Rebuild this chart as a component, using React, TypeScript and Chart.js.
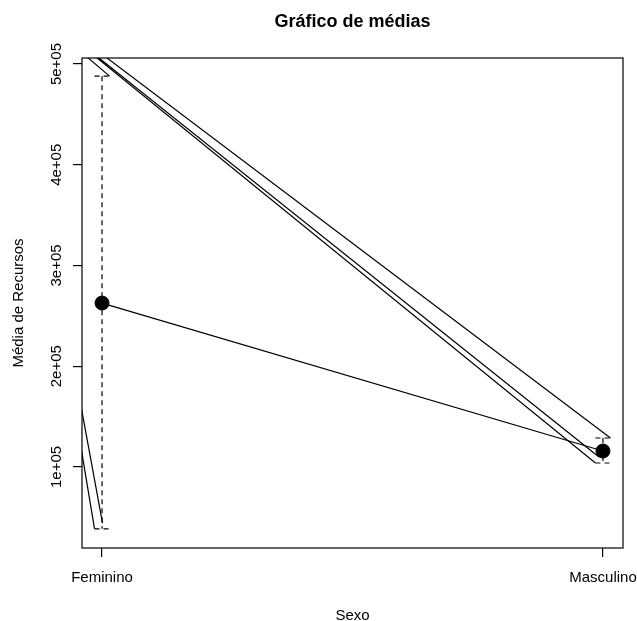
import React, { useEffect, useRef } from "react";
import { Chart, registerables } from "chart.js";

Chart.register(...registerables);

// ---- data ----
const categories = ["Feminino", "Masculino"];
const categoryX = [1, 2];
const means = [262700, 115800];
const ciUpper = [488000, 128700];
const ciLower = [38500, 103900];
const yTicks = [100000, 200000, 300000, 400000, 500000];
const yTickLabels = ["1e+05", "2e+05", "3e+05", "4e+05", "5e+05"];
const xLimits = [0.96, 2.04];
const yLimits = [19500, 506000];
// stray solid segments visible in the reference (start -> end, data units)
const strayStartX = [0.9303, 0.9602, 0.9602, 0.9602, 0.95, 0.95];
const strayStartY = [523900, 524700, 519400, 518100, 181900, 143300];
const strayEndX = [1.015, 2.015, 1.992, 1.985, 1.001, 0.985];
const strayEndY = [488000, 128700, 109800, 103900, 44300, 38500];

const titleText = "Gráfico de médias";
const xTitle = "Sexo";
const yTitle = "Média de Recursos";

const FAMILY = '"Liberation Sans", Arial, Helvetica, sans-serif';

export default function App() {
  const ref = useRef<HTMLCanvasElement | null>(null);

  useEffect(() => {
    if (!ref.current) return;
    const cap = 0.015;

    const meanData = categoryX.map((x, i) => ({ x, y: means[i] }));

    const errData: any[] = [];
    categoryX.forEach((x, i) => {
      errData.push({ x: x - cap, y: ciUpper[i] }, { x: x + cap, y: ciUpper[i] }, { x: x + cap, y: null });
      errData.push({ x, y: ciUpper[i] }, { x, y: ciLower[i] }, { x, y: null });
      errData.push({ x: x - cap, y: ciLower[i] }, { x: x + cap, y: ciLower[i] }, { x: x + cap, y: null });
    });

    const strayData: any[] = [];
    strayStartX.forEach((sx, i) => {
      strayData.push({ x: sx, y: strayStartY[i] }, { x: strayEndX[i], y: strayEndY[i] }, { x: strayEndX[i], y: null });
    });

    const framePlugin = {
      id: "rframe",
      afterDraw(chart: any) {
        const { ctx, chartArea: a } = chart;
        ctx.save();
        ctx.strokeStyle = "#000";
        ctx.lineWidth = 1.2;
        ctx.strokeRect(a.left, a.top, a.right - a.left, a.bottom - a.top);
        ctx.fillStyle = "#000";
        ctx.font = `bold 18px ${FAMILY}`;
        ctx.textAlign = "center";
        ctx.textBaseline = "middle";
        ctx.fillText(titleText, (a.left + a.right) / 2, 22);
        ctx.restore();
      },
    };

    const font = { family: FAMILY, size: 15 };
    const grid = {
      display: true,
      drawOnChartArea: false,
      drawTicks: true,
      tickLength: 9,
      color: "#000",
      lineWidth: 1.2,
    };

    const chart = new Chart(ref.current, {
      type: "line",
      data: {
        datasets: [
          {
            data: meanData,
            borderColor: "#000",
            borderWidth: 1.2,
            pointRadius: 7,
            pointBackgroundColor: "#000",
            pointBorderColor: "#000",
            pointBorderWidth: 1,
            clip: 0,
          },
          {
            data: errData,
            borderColor: "#000",
            borderWidth: 1.2,
            borderDash: [5, 4],
            pointRadius: 0,
            spanGaps: false,
            clip: 0,
          },
          {
            data: strayData,
            borderColor: "#000",
            borderWidth: 1.2,
            pointRadius: 0,
            spanGaps: false,
            clip: 0,
          },
        ] as any,
      },
      options: {
        animation: false,
        responsive: false,
        maintainAspectRatio: false,
        layout: { padding: { top: 58, right: 14, bottom: 0, left: 0 } },
        plugins: {
          legend: { display: false },
          tooltip: { enabled: false },
          title: { display: false },
        },
        scales: {
          x: {
            type: "linear",
            min: xLimits[0],
            max: xLimits[1],
            afterBuildTicks: (s: any) => {
              s.ticks = categoryX.map((v) => ({ value: v }));
            },
            afterFit: (s: any) => {
              s.height = 73;
              s.paddingLeft = 0;
              s.paddingRight = 0;
              s.paddingTop = 0;
              s.paddingBottom = 0;
            },
            grid,
            border: { display: false },
            ticks: {
              callback: (_v: any, i: number) => categories[i],
              color: "#000",
              font,
              padding: 11.5,
              autoSkip: false,
              minRotation: 0,
              maxRotation: 0,
            },
            title: {
              display: true,
              text: xTitle,
              color: "#000",
              font,
              padding: { top: 0, bottom: -4 },
            },
          },
          y: {
            type: "linear",
            min: yLimits[0],
            max: yLimits[1],
            afterBuildTicks: (s: any) => {
              s.ticks = yTicks.map((v) => ({ value: v }));
            },
            afterFit: (s: any) => {
              s.width = 82;
              s.paddingLeft = 0;
              s.paddingRight = 0;
              s.paddingTop = 0;
              s.paddingBottom = 0;
            },
            grid,
            border: { display: false },
            ticks: {
              callback: (_v: any, i: number) => yTickLabels[i],
              color: "#000",
              font,
              padding: -5,
              minRotation: 90,
              maxRotation: 90,
              crossAlign: "center",
              autoSkip: false,
            },
            title: {
              display: true,
              text: yTitle,
              color: "#000",
              font,
              padding: { top: 9.5, bottom: 0 },
            },
          },
        },
      } as any,
      plugins: [framePlugin],
    });

    return () => chart.destroy();
  }, []);

  return (
    <div style={{ position: "fixed", left: 0, top: 0, width: 637, height: 621, background: "#fff" }}>
      <canvas ref={ref} width={637} height={621} style={{ display: "block" }} />
    </div>
  );
}
